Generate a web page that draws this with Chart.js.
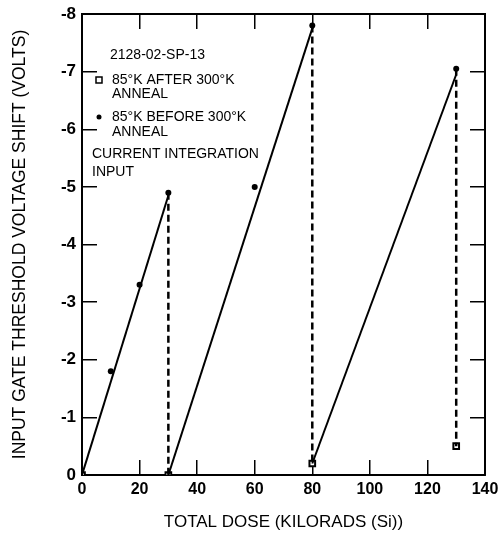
<!DOCTYPE html>
<html>
<head>
<meta charset="utf-8">
<script src="https://cdn.jsdelivr.net/npm/chart.js@4/dist/chart.umd.min.js"></script>
<style>
  html, body { margin: 0; padding: 0; background: #fff; }
  #wrap { width: 498px; height: 538px; }
</style>
</head>
<body>
<div id="wrap"><canvas id="doseChart"></canvas></div>
<script>
// points measured before the 300K anneal (dots)
const beforeDose = [0, 10, 20, 30, 60, 80, 130]
const beforeShift = [0, -1.8, -3.3, -4.9, -5.0, -7.8, -7.05]

// points measured after the 300K anneal (open squares)
const afterDose = [0, 30, 80, 130]
const afterShift = [0, 0, -0.2, -0.5]

// straight line fits, one per irradiation run
const fitStartDose = [0, 30, 80]
const fitStartShift = [0, 0, -0.2]
const fitEndDose = [30, 80, 130]
const fitEndShift = [-4.85, -7.75, -6.95]

// dashed drops caused by the anneal
const dropDose = [30, 80, 130]
const dropTop = [-4.9, -7.8, -7.05]
const dropBottom = [0, -0.2, -0.5]

const xTicks = [0, 20, 40, 60, 80, 100, 120, 140]
const yTicks = [0, -1, -2, -3, -4, -5, -6, -7, -8]

const legendLines = [
  {text: '2128-02-SP-13', x: 110, y: 55},
  {text: '85\u00B0K AFTER 300\u00B0K', x: 112, y: 80, mark: 'square'},
  {text: 'ANNEAL', x: 112, y: 94},
  {text: '85\u00B0K BEFORE 300\u00B0K', x: 112, y: 117, mark: 'dot'},
  {text: 'ANNEAL', x: 112, y: 132},
  {text: 'CURRENT INTEGRATION', x: 92, y: 154},
  {text: 'INPUT', x: 92, y: 172}
]

const fontName = "'Liberation Sans', Arial, sans-serif"
const tickIn = -15   // negative tick length = ticks pointing into the plot

let datasets = []

for (let i = 0; i < fitStartDose.length; i++) {
  datasets.push({
    data: [{x: fitStartDose[i], y: fitStartShift[i]}, {x: fitEndDose[i], y: fitEndShift[i]}],
    showLine: true,
    borderColor: '#000',
    borderWidth: 2,
    pointRadius: 0
  })
}

for (let i = 0; i < dropDose.length; i++) {
  datasets.push({
    data: [{x: dropDose[i], y: dropTop[i]}, {x: dropDose[i], y: dropBottom[i]}],
    showLine: true,
    borderColor: '#000',
    borderWidth: 2.5,
    borderDash: [7, 4],
    pointRadius: 0
  })
}

// squares first so the dot at the origin sits on top
datasets.push({
  data: afterDose.map((d, i) => ({x: d, y: afterShift[i]})),
  showLine: false,
  pointStyle: 'rect',
  pointRadius: 4,
  backgroundColor: '#fff',
  borderColor: '#000',
  borderWidth: 2
})

datasets.push({
  data: beforeDose.map((d, i) => ({x: d, y: beforeShift[i]})),
  showLine: false,
  pointStyle: 'circle',
  pointRadius: 3,
  backgroundColor: '#000',
  borderColor: '#000',
  borderWidth: 0
})

// the text legend that sits inside the plot
const legendPlugin = {
  id: 'textLegend',
  afterDraw(chart) {
    const ctx = chart.ctx
    ctx.save()
    ctx.fillStyle = '#000'
    ctx.strokeStyle = '#000'
    ctx.font = '14px ' + fontName
    ctx.textBaseline = 'middle'
    ctx.textAlign = 'left'
    legendLines.forEach(l => {
      ctx.fillText(l.text, l.x, l.y)
      if (l.mark === 'square') {
        ctx.lineWidth = 1.5
        ctx.strokeRect(96, l.y - 3, 6, 6)
      } else if (l.mark === 'dot') {
        ctx.beginPath()
        ctx.arc(99, l.y, 2.5, 0, Math.PI * 2)
        ctx.fill()
      }
    })
    ctx.restore()
  }
}

const tickGrid = {display: true, drawOnChartArea: false, drawTicks: true, tickLength: tickIn, color: '#000', lineWidth: 1.5}
const frameBorder = {display: true, color: '#000', width: 2}

// fixed box sizes, and no label overhang padding so the plot area stays put
function fixBox(w, h) {
  return (s) => {
    if (w !== null) s.width = w
    if (h !== null) s.height = h
    s.paddingTop = 0
    s.paddingBottom = 0
    s.paddingLeft = 0
    s.paddingRight = 0
  }
}

const chart = new Chart(document.getElementById('doseChart'), {
  type: 'scatter',
  data: {datasets: datasets},
  options: {
    responsive: true,
    maintainAspectRatio: false,
    animation: false,
    layout: {padding: {top: 14, right: 13, left: 0, bottom: 0}},
    plugins: {legend: {display: false}, tooltip: {enabled: false}},
    scales: {
      x: {
        type: 'linear',
        min: 0,
        max: 140,
        afterBuildTicks: (s) => { s.ticks = xTicks.map(v => ({value: v})) },
        afterFit: fixBox(null, 63),
        grid: tickGrid,
        border: frameBorder,
        ticks: {color: '#000', padding: 5 - tickIn, maxRotation: 0, font: {family: fontName, size: 16, weight: 'bold'}},
        title: {display: true, text: 'TOTAL DOSE (KILORADS (Si))', color: '#000', padding: {top: 0, bottom: 5}, font: {family: fontName, size: 17}}
      },
      x2: {
        type: 'linear',
        position: 'top',
        min: 0,
        max: 140,
        afterBuildTicks: (s) => { s.ticks = xTicks.map(v => ({value: v})) },
        afterFit: fixBox(null, 0),
        grid: tickGrid,
        border: frameBorder,
        ticks: {display: false}
      },
      y: {
        type: 'linear',
        min: -8,
        max: 0,
        reverse: true,
        afterBuildTicks: (s) => { s.ticks = yTicks.map(v => ({value: v})) },
        afterFit: fixBox(82, null),
        grid: tickGrid,
        border: frameBorder,
        ticks: {color: '#000', padding: 6 - tickIn, font: {family: fontName, size: 17, weight: 'bold'}},
        title: {display: true, text: 'INPUT GATE THRESHOLD VOLTAGE SHIFT (VOLTS)', color: '#000', padding: {top: 10, bottom: 0}, font: {family: fontName, size: 17.5}}
      },
      y2: {
        type: 'linear',
        position: 'right',
        min: -8,
        max: 0,
        reverse: true,
        afterBuildTicks: (s) => { s.ticks = yTicks.map(v => ({value: v})) },
        afterFit: fixBox(0, null),
        grid: tickGrid,
        border: frameBorder,
        ticks: {display: false}
      }
    }
  },
  plugins: [legendPlugin]
})
</script>
</body>
</html>
